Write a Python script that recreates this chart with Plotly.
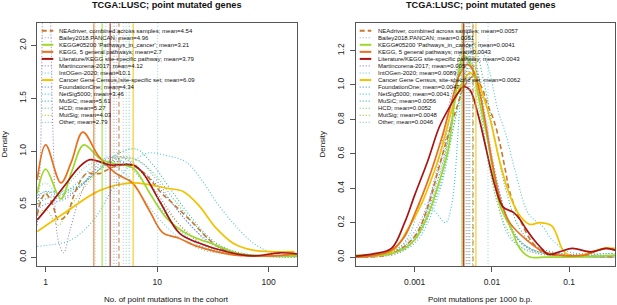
import plotly.graph_objects as go

W, H = 617, 305

# ---------------- series definitions ----------------
SERIES = ["NEAdriver, combined across samples", "Bailey2018.PANCAN",
          "KEGG#05200 'Pathways_in_cancer'", "KEGG, 5 general pathways",
          "Literature/KEGG site-specific pathway", "Martincorena-2017",
          "IntOGen-2020", "Cancer Gene Census, site-specific set",
          "FoundationOne", "NetSig5000", "MuSiC", "HCD", "MutSig", "Other"]
COLORS = ["#C8782E", "#A09CC8", "#9ED82A", "#E8701E", "#A81414", "#9A82C8",
          "#56C2D0", "#F2C200", "#4C94DC", "#36C8D8", "#3CB49C", "#48C868",
          "#A6C63C", "#8ACCBC"]
STYLES = ["dash", "dot", "solid", "solid", "solid", "dot", "dot", "solid",
          "dot", "dot", "dot", "dot", "dot", "dot"]
MEANS_LEFT = [4.54, 4.96, 3.21, 2.7, 3.79, 4.12, 10.1, 6.09, 4.34, 3.46, 5.61, 5.27, 4.03, 2.79]
MEANS_RIGHT = [0.0057, 0.0051, 0.0041, 0.0043, 0.0043, 0.005, 0.0089, 0.0062,
               0.0047, 0.0041, 0.0056, 0.0052, 0.0048, 0.0046]

# ---------------- left panel: No. of point mutations in the cohort ----------------
L_NEA_X = [0.84, 0.92, 1.0, 1.15, 1.3, 1.55, 1.77, 2.05, 2.33, 2.7, 3.07, 3.5, 4.04, 5.0, 6.1, 7.5, 9.2, 11, 14, 21, 32, 48, 80, 179]
L_NEA_Y = [0.40, 0.55, 0.60, 0.50, 0.35, 0.40, 0.57, 0.72, 0.79, 0.79, 0.79, 0.82, 0.85, 0.87, 0.86, 0.80, 0.70, 0.60, 0.50, 0.32, 0.13, 0.03, 0.01, 0.01]
L_BAI_X = [0.84, 1.0, 1.3, 1.8, 2.5, 3.5, 5, 7, 10, 15, 25, 40, 70, 179]
L_BAI_Y = [0.55, 0.62, 0.55, 0.62, 0.75, 0.88, 0.95, 0.90, 0.72, 0.45, 0.20, 0.07, 0.02, 0.01]
L_K52_X = [0.84, 1.0, 1.37, 1.7, 2.2, 3.07, 4.2, 6.1, 8.6, 12.2, 18.4, 34, 55, 100, 179]
L_K52_Y = [0.60, 0.83, 0.55, 0.80, 1.06, 0.93, 0.88, 0.84, 0.60, 0.365, 0.22, 0.11, 0.03, 0.01, 0.01]
L_K5_X = [0.84, 1.0, 1.37, 1.7, 2.15, 3.0, 4.27, 6.0, 8.5, 11.2, 15.5, 23, 48, 100, 179]
L_K5_Y = [0.73, 1.06, 0.70, 0.90, 1.18, 0.95, 0.79, 0.70, 0.44, 0.23, 0.18, 0.10, 0.02, 0.01, 0.03]
L_LIT_X = [0.84, 1.1, 1.54, 2.0, 2.5, 3.77, 6.1, 7.5, 10.6, 16, 24, 42, 72, 125, 179]
L_LIT_Y = [0.35, 0.50, 0.70, 0.85, 0.92, 0.87, 0.87, 0.79, 0.52, 0.22, 0.13, 0.05, 0.01, 0.04, 0.03]
L_MAR_X = [0.84, 0.9, 0.95, 1.0, 1.08, 1.16, 1.3, 1.45, 1.65, 2.0, 2.5, 3.2, 4.5, 6.5, 10, 16, 25, 40, 70, 179]
L_MAR_Y = [0.30, 1.0, 2.4, 2.6, 2.4, 1.2, 0.15, 0.04, 0.25, 0.55, 0.78, 0.90, 0.95, 0.85, 0.60, 0.30, 0.12, 0.04, 0.01, 0.0]
L_INT_X = [0.84, 1.2, 1.6, 2.2, 3, 4, 5.5, 8, 12, 18, 25, 35, 50, 75, 110, 179]
L_INT_Y = [0.10, 0.12, 0.15, 0.25, 0.42, 0.65, 0.85, 0.98, 0.96, 0.90, 0.73, 0.50, 0.30, 0.12, 0.04, 0.02]
L_CGC_X = [0.84, 1.54, 3.07, 6.1, 12.2, 17.1, 23.5, 34, 48, 72, 170]
L_CGC_Y = [0.24, 0.43, 0.63, 0.70, 0.65, 0.62, 0.49, 0.27, 0.13, 0.065, 0.05]
L_F1_X = [0.84, 1.0, 1.5, 2.2, 3, 4, 5.5, 8, 12, 18, 28, 45, 80, 179]
L_F1_Y = [0.45, 0.50, 0.55, 0.70, 0.85, 0.90, 0.88, 0.78, 0.58, 0.35, 0.15, 0.05, 0.01, 0.0]
L_NET_X = [0.84, 1.0, 1.4, 2.0, 2.8, 3.8, 5, 7, 10, 15, 25, 45, 179]
L_NET_Y = [0.58, 0.62, 0.60, 0.72, 0.88, 0.95, 0.90, 0.75, 0.50, 0.28, 0.10, 0.03, 0.0]
L_MUS_X = [0.84, 1.0, 1.5, 2.2, 3.2, 4.5, 6.5, 9, 13, 20, 32, 55, 179]
L_MUS_Y = [0.50, 0.55, 0.60, 0.70, 0.85, 0.98, 1.02, 0.88, 0.65, 0.38, 0.15, 0.04, 0.01]
L_HCD_X = [0.84, 1.0, 1.4, 2.0, 3.0, 4.5, 6.5, 9.5, 14, 22, 35, 60, 179]
L_HCD_Y = [0.50, 0.60, 0.62, 0.68, 0.82, 0.93, 0.92, 0.78, 0.55, 0.30, 0.10, 0.03, 0.01]
L_MUT_X = [0.84, 1.0, 1.3, 1.6, 2.2, 3.2, 4.5, 6, 8.5, 12, 18, 30, 60, 179]
L_MUT_Y = [0.40, 0.45, 0.30, 0.45, 0.65, 0.85, 0.95, 0.90, 0.70, 0.45, 0.25, 0.08, 0.02, 0.0]
L_OTH_X = [0.84, 1.0, 1.3, 1.8, 2.5, 3.5, 5, 7, 10, 15, 25, 50, 179]
L_OTH_Y = [0.65, 0.70, 0.60, 0.75, 0.88, 0.90, 0.80, 0.60, 0.38, 0.20, 0.07, 0.02, 0.0]

# ---------------- right panel: Point mutations per 1000 b.p. ----------------
R_NEA_X = [0.00017, 0.0005, 0.001, 0.0015, 0.002, 0.0026, 0.0034, 0.0045, 0.0058, 0.0075, 0.0085, 0.0105, 0.0127, 0.015, 0.017, 0.023, 0.034, 0.05, 0.1, 0.396]
R_NEA_Y = [0.0, 0.02, 0.12, 0.30, 0.50, 0.68, 0.85, 1.0, 1.05, 0.98, 0.90, 0.80, 0.66, 0.50, 0.38, 0.22, 0.08, 0.02, 0.01, 0.0]
R_BAI_X = [0.00017, 0.0005, 0.001, 0.002, 0.003, 0.0045, 0.006, 0.008, 0.011, 0.016, 0.025, 0.05, 0.396]
R_BAI_Y = [0.0, 0.03, 0.15, 0.50, 0.85, 1.12, 1.10, 0.85, 0.50, 0.22, 0.07, 0.02, 0.0]
R_K52_X = [0.00017, 0.0005, 0.00074, 0.001, 0.0015, 0.0018, 0.0027, 0.0034, 0.0043, 0.0055, 0.0068, 0.0089, 0.0105, 0.0127, 0.018, 0.023, 0.031, 0.05, 0.1, 0.396]
R_K52_Y = [0.01, 0.02, 0.05, 0.10, 0.25, 0.35, 0.62, 0.95, 1.17, 1.10, 0.92, 0.67, 0.48, 0.30, 0.16, 0.05, 0.0, 0.0, 0.0, 0.01]
R_K5_X = [0.00017, 0.0003, 0.0005, 0.00074, 0.001, 0.0015, 0.0022, 0.003, 0.0038, 0.0048, 0.0058, 0.007, 0.0081, 0.01, 0.0127, 0.017, 0.028, 0.047, 0.08, 0.15, 0.3, 0.396]
R_K5_Y = [0.0, 0.01, 0.04, 0.12, 0.25, 0.45, 0.68, 0.90, 1.06, 1.12, 1.08, 0.95, 0.80, 0.56, 0.34, 0.20, 0.10, 0.03, 0.01, 0.01, 0.05, 0.04]
R_LIT_X = [0.00017, 0.0003, 0.0005, 0.00074, 0.001, 0.00148, 0.0021, 0.0029, 0.0036, 0.0043, 0.0052, 0.0066, 0.0085, 0.011, 0.014, 0.019, 0.023, 0.028, 0.035, 0.042, 0.054, 0.075, 0.11, 0.19, 0.3, 0.396]
R_LIT_Y = [0.005, 0.02, 0.05, 0.20, 0.36, 0.56, 0.76, 0.88, 0.95, 0.99, 0.97, 0.83, 0.62, 0.41, 0.29, 0.26, 0.22, 0.16, 0.10, 0.06, 0.015, 0.03, 0.05, 0.03, 0.05, 0.04]
R_MAR_X = [0.00017, 0.0006, 0.001, 0.0018, 0.003, 0.0045, 0.006, 0.008, 0.011, 0.016, 0.03, 0.08, 0.396]
R_MAR_Y = [0.0, 0.02, 0.10, 0.45, 0.95, 1.25, 1.15, 0.80, 0.45, 0.20, 0.05, 0.02, 0.01]
R_INT_X = [0.00017, 0.0005, 0.001, 0.002, 0.0035, 0.005, 0.0065, 0.009, 0.012, 0.015, 0.02, 0.03, 0.045, 0.06, 0.1, 0.2, 0.396]
R_INT_Y = [0.0, 0.02, 0.08, 0.35, 0.85, 1.15, 1.25, 1.10, 0.85, 0.72, 0.50, 0.25, 0.18, 0.10, 0.03, 0.02, 0.02]
R_CGC_X = [0.00017, 0.0005, 0.00081, 0.0012, 0.0018, 0.0022, 0.003, 0.004, 0.0052, 0.0065, 0.0082, 0.0095, 0.0127, 0.017, 0.023, 0.031, 0.042, 0.06, 0.083, 0.1, 0.14, 0.2, 0.28, 0.396]
R_CGC_Y = [0.005, 0.03, 0.16, 0.30, 0.50, 0.62, 0.85, 1.0, 1.07, 1.02, 0.90, 0.80, 0.55, 0.36, 0.24, 0.19, 0.20, 0.18, 0.04, 0.01, 0.01, 0.03, 0.05, 0.05]
R_F1_X = [0.00017, 0.0005, 0.001, 0.002, 0.003, 0.0042, 0.0055, 0.007, 0.0095, 0.014, 0.02, 0.04, 0.396]
R_F1_Y = [0.0, 0.02, 0.12, 0.45, 0.80, 1.15, 1.15, 0.95, 0.60, 0.30, 0.12, 0.03, 0.0]
R_NET_X = [0.00017, 0.0006, 0.0009, 0.0012, 0.0017, 0.0025, 0.003, 0.0038, 0.0045, 0.0055, 0.007, 0.009, 0.012, 0.018, 0.04, 0.396]
R_NET_Y = [0.0, 0.05, 0.15, 0.31, 0.28, 0.20, 0.30, 0.85, 1.30, 1.25, 0.90, 0.55, 0.30, 0.10, 0.02, 0.0]
R_MUS_X = [0.00017, 0.0005, 0.001, 0.002, 0.003, 0.0045, 0.006, 0.008, 0.011, 0.015, 0.022, 0.035, 0.06, 0.15, 0.3, 0.396]
R_MUS_Y = [0.01, 0.03, 0.10, 0.38, 0.70, 1.05, 1.20, 1.0, 0.68, 0.40, 0.18, 0.07, 0.03, 0.01, 0.02, 0.02]
R_HCD_X = [0.00017, 0.0005, 0.001, 0.002, 0.003, 0.0045, 0.006, 0.008, 0.011, 0.016, 0.025, 0.05, 0.396]
R_HCD_Y = [0.01, 0.03, 0.10, 0.40, 0.78, 1.15, 1.10, 0.80, 0.48, 0.22, 0.08, 0.02, 0.01]
R_MUT_X = [0.00017, 0.0005, 0.001, 0.002, 0.003, 0.0042, 0.0055, 0.0075, 0.01, 0.015, 0.025, 0.06, 0.396]
R_MUT_Y = [0.0, 0.02, 0.10, 0.42, 0.80, 1.20, 1.12, 0.78, 0.45, 0.18, 0.05, 0.01, 0.0]
R_OTH_X = [0.00017, 0.0005, 0.001, 0.002, 0.003, 0.0042, 0.0055, 0.0075, 0.01, 0.015, 0.025, 0.05, 0.396]
R_OTH_Y = [0.0, 0.03, 0.13, 0.48, 0.85, 1.08, 1.02, 0.75, 0.48, 0.22, 0.08, 0.02, 0.01]

LEFT = [(L_NEA_X, L_NEA_Y), (L_BAI_X, L_BAI_Y), (L_K52_X, L_K52_Y), (L_K5_X, L_K5_Y),
        (L_LIT_X, L_LIT_Y), (L_MAR_X, L_MAR_Y), (L_INT_X, L_INT_Y), (L_CGC_X, L_CGC_Y),
        (L_F1_X, L_F1_Y), (L_NET_X, L_NET_Y), (L_MUS_X, L_MUS_Y), (L_HCD_X, L_HCD_Y),
        (L_MUT_X, L_MUT_Y), (L_OTH_X, L_OTH_Y)]
RIGHT = [(R_NEA_X, R_NEA_Y), (R_BAI_X, R_BAI_Y), (R_K52_X, R_K52_Y), (R_K5_X, R_K5_Y),
         (R_LIT_X, R_LIT_Y), (R_MAR_X, R_MAR_Y), (R_INT_X, R_INT_Y), (R_CGC_X, R_CGC_Y),
         (R_F1_X, R_F1_Y), (R_NET_X, R_NET_Y), (R_MUS_X, R_MUS_Y), (R_HCD_X, R_HCD_Y),
         (R_MUT_X, R_MUT_Y), (R_OTH_X, R_OTH_Y)]

TITLE = "TCGA:LUSC; point mutated genes"
XTITLE_LEFT = "No. of point mutations in the cohort"
XTITLE_RIGHT = "Point mutations per 1000 b.p."
YTITLE = "Density"
LEFT_XTICKS = [1, 10, 100]
LEFT_XTICKTEXT = ["1", "10", "100"]
RIGHT_XTICKS = [0.001, 0.01, 0.1]
RIGHT_XTICKTEXT = ["0.001", "0.01", "0.1"]
LEFT_YTICKS = [0, 0.5, 1.0, 1.5, 2.0]
RIGHT_YTICKS = [0, 0.2, 0.4, 0.6, 0.8, 1.0, 1.2]

# ---------------- styling helpers ----------------
DASH = {"solid": "solid", "dash": "5px,3px", "dot": "1px,2px"}
WIDTH = {"solid": 1.7, "dash": 1.6, "dot": 1.1}
FONT = "Liberation Sans, Arial, Helvetica, sans-serif"
AX = "#555555"

fig = go.Figure()

# draw order: dotted first, then dashed, then solid
order = [i for i, s in enumerate(STYLES) if s == "dot"] + \
        [i for i, s in enumerate(STYLES) if s == "dash"] + \
        [7, 2, 3, 4]

for panel, data, means, xa, ya in [(0, LEFT, MEANS_LEFT, "x", "y"),
                                     (1, RIGHT, MEANS_RIGHT, "x2", "y2")]:
    for i in order:
        xs, ys = data[i]
        fig.add_trace(go.Scatter(
            x=xs, y=ys, mode="lines", xaxis=xa, yaxis=ya,
            line=dict(color=COLORS[i], width=WIDTH[STYLES[i]], dash=DASH[STYLES[i]],
                      shape="spline", smoothing=1.0),
            name=SERIES[i], showlegend=False, hoverinfo="skip"))
    for i in order:
        fig.add_trace(go.Scatter(
            x=[means[i], means[i]], y=[-1, 5], mode="lines", xaxis=xa, yaxis=ya,
            line=dict(color=COLORS[i], width=1.5 if STYLES[i] != "dot" else 1.0,
                      dash=DASH[STYLES[i]]),
            opacity=0.65, showlegend=False, hoverinfo="skip"))

# ---------------- layout / axes ----------------
top_px, bot_px = 23.2, 266.0
ydom = [1 - bot_px / H, 1 - top_px / H]
xdom_l = [37.0 / W, 297.0 / W]
xdom_r = [355.7 / W, 615.3 / W]

common_x = dict(type="log", showgrid=False, zeroline=False, showline=True, mirror=True,
                linecolor=AX, linewidth=1, ticks="outside", ticklen=5, tickcolor=AX,
                tickfont=dict(size=8.5, color="#222", family=FONT), ticklabelstandoff=3)
common_y = dict(showgrid=False, zeroline=False, showline=True, mirror=True,
                linecolor=AX, linewidth=1, ticks="outside", ticklen=5, tickcolor=AX,
                tickangle=-90, tickfont=dict(size=8.5, color="#222", family=FONT),
                ticklabelstandoff=2)

fig.update_layout(
    width=W, height=H, margin=dict(l=0, r=0, t=0, b=0),
    paper_bgcolor="white", plot_bgcolor="white", showlegend=False,
    font=dict(family=FONT), hovermode=False,
    xaxis=dict(domain=xdom_l, range=[-0.078, 2.254], tickvals=LEFT_XTICKS,
               ticktext=LEFT_XTICKTEXT, anchor="y", **common_x),
    yaxis=dict(domain=ydom, range=[-0.085, 2.21], tickvals=LEFT_YTICKS,
               ticktext=["%.1f" % v for v in LEFT_YTICKS], anchor="x", **common_y),
    xaxis2=dict(domain=xdom_r, range=[-3.764, -0.402], tickvals=RIGHT_XTICKS,
                ticktext=RIGHT_XTICKTEXT, anchor="y2", **common_x),
    yaxis2=dict(domain=ydom, range=[-0.052, 1.359], tickvals=RIGHT_YTICKS,
                ticktext=["%.1f" % v for v in RIGHT_YTICKS], anchor="x2", **common_y),
)

ann = []
shapes = []
# titles and axis titles
for cx, xt, ylab_x in [(166.5, XTITLE_LEFT, 5.0), (481.0, XTITLE_RIGHT, 323.0)]:
    ann.append(dict(x=cx / W, y=1 - 5.5 / H, xref="paper", yref="paper", text="<b>%s</b>" % TITLE,
                    showarrow=False, xanchor="center", yanchor="middle",
                    font=dict(size=9.2, color="#111", family=FONT)))
    ann.append(dict(x=cx / W, y=1 - 299.5 / H, xref="paper", yref="paper", text=xt,
                    showarrow=False, xanchor="center", yanchor="middle",
                    font=dict(size=8, color="#111", family=FONT)))
    ann.append(dict(x=ylab_x / W, y=1 - 144.6 / H, xref="paper", yref="paper", text=YTITLE,
                    showarrow=False, xanchor="center", yanchor="middle", textangle=-90,
                    font=dict(size=8, color="#111", family=FONT)))

# manual compact legends (R style, no box)
row0, step = 30.7, 7.05
for (lx0, lx1, tx, means) in [(41.7, 53.3, 57.0, MEANS_LEFT), (359.7, 371.3, 376.0, MEANS_RIGHT)]:
    for i, name in enumerate(SERIES):
        yc = row0 + i * step
        st = STYLES[i]
        shapes.append(dict(type="line", xref="paper", yref="paper",
                           x0=lx0 / W, x1=lx1 / W, y0=1 - yc / H, y1=1 - yc / H,
                           line=dict(color=COLORS[i], width=2.0 if st != "dot" else 1.2,
                                     dash=DASH[st])))
        ann.append(dict(x=tx / W, y=1 - yc / H, xref="paper", yref="paper",
                        text="%s; mean=%g" % (name, means[i]), showarrow=False,
                        xanchor="left", yanchor="middle",
                        font=dict(size=6, color="#111", family=FONT)))

fig.update_layout(annotations=ann, shapes=shapes)
# remove the default 8px page margin so the 617x305 figure fills the window exactly
fig.write_html("out.html", config={"displayModeBar": False, "staticPlot": True},
               post_script="document.body.style.margin='0';document.body.style.padding='0';")
